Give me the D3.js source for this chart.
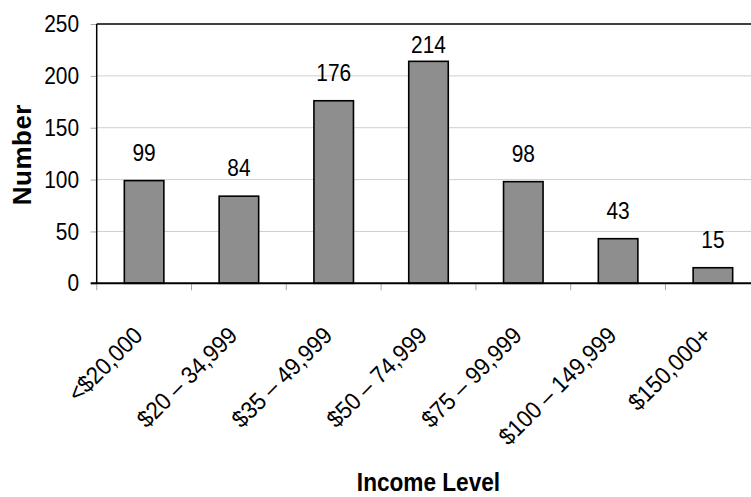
<!DOCTYPE html>
<html>
<head>
<meta charset="utf-8">
<script src="https://cdn.jsdelivr.net/npm/d3@7"></script>
<style>
  html, body { margin: 0; padding: 0; background: #fff; }
  svg { display: block; font-family: "Liberation Sans", Arial, sans-serif; }
</style>
</head>
<body>
<svg id="chart" width="751" height="497"></svg>
<script>
// Household income distribution of respondents
const categories = ["<$20,000", "$20 – 34,999", "$35 – 49,999", "$50 – 74,999",
                    "$75 – 99,999", "$100 – 149,999", "$150,000+"];
const counts = [99, 84, 176, 214, 98, 43, 15];
const yTicks = [0, 50, 100, 150, 200, 250];
const yTitle = "Number";
const xTitle = "Income Level";

const W = 751, H = 497;
const plot = { left: 96.7, right: 760.3, top: 24, bottom: 283.3 };
const squeeze = 0.87;           // narrow glyph width used for horizontal labels
const squeezeDiag = 0.93;       // same narrowing seen along a 45° baseline

const svg = d3.select("#chart");
svg.append("rect").attr("width", W).attr("height", H).attr("fill", "#fff");

const x = d3.scaleBand()
  .domain(categories)
  .range([plot.left, plot.right])
  .paddingInner(0.583)
  .paddingOuter(0.583 / 2);

const y = d3.scaleLinear()
  .domain([0, d3.max(yTicks)])
  .range([plot.bottom, plot.top]);

// light horizontal gridlines
svg.append("g")
  .selectAll("line")
  .data(yTicks.filter(t => t > 0 && t < d3.max(yTicks)))
  .join("line")
  .attr("x1", plot.left).attr("x2", plot.right)
  .attr("y1", d => y(d)).attr("y2", d => y(d))
  .attr("stroke", "#cfcfcf").attr("stroke-width", 1);

// y axis with small grey ticks
const yAxis = svg.append("g")
  .attr("transform", `translate(${plot.left},0)`)
  .call(d3.axisLeft(y).tickValues(yTicks).tickSize(6).tickSizeOuter(0));
yAxis.select(".domain").remove();
yAxis.selectAll(".tick line").attr("stroke", "#a8a8a8");
yAxis.selectAll(".tick text")
  .attr("x", 0)
  .attr("transform", `translate(-17.7,0) scale(${squeeze},1)`)
  .attr("font-size", 24)
  .attr("font-family", "Liberation Sans, Arial, sans-serif")
  .attr("fill", "#000");

// x axis category boundary ticks
const gap = x.step() - x.bandwidth();
const bounds = categories.map(c => x(c) - gap / 2).concat([x(categories[categories.length - 1]) + x.bandwidth() + gap / 2]);
svg.append("g")
  .selectAll("line")
  .data(bounds)
  .join("line")
  .attr("x1", d => d).attr("x2", d => d)
  .attr("y1", plot.bottom).attr("y2", plot.bottom + 7)
  .attr("stroke", "#a8a8a8").attr("stroke-width", 1);

// bars
svg.append("g")
  .selectAll("rect")
  .data(counts)
  .join("rect")
  .attr("x", (d, i) => x(categories[i]))
  .attr("y", d => y(d))
  .attr("width", x.bandwidth())
  .attr("height", d => y(0) - y(d))
  .attr("fill", "#8e8e8e")
  .attr("stroke", "#000")
  .attr("stroke-width", 1.6);

// plot frame: top, left and baseline
const frame = svg.append("g").attr("stroke", "#000").attr("fill", "none");
frame.append("line").attr("x1", plot.left).attr("x2", plot.right)
  .attr("y1", y(d3.max(yTicks))).attr("y2", y(d3.max(yTicks))).attr("stroke-width", 1.5);
frame.append("line").attr("x1", plot.left).attr("x2", plot.left)
  .attr("y1", plot.top).attr("y2", plot.bottom).attr("stroke-width", 1.5);
frame.append("line").attr("x1", plot.left - 6).attr("x2", plot.right)
  .attr("y1", y(0)).attr("y2", y(0)).attr("stroke-width", 2);

// value labels above bars, kept clear of the top border
svg.append("g")
  .selectAll("text")
  .data(counts)
  .join("text")
  .attr("text-anchor", "middle")
  .attr("font-size", 24)
  .attr("fill", "#000")
  .attr("transform", (d, i) => {
    const cx = x(categories[i]) + x.bandwidth() / 2;
    const base = Math.max(y(d) - 20, plot.top + 29);
    return `translate(${cx},${base}) scale(${squeeze},1)`;
  })
  .text(d => d);

// rotated category labels
svg.append("g")
  .selectAll("text")
  .data(categories)
  .join("text")
  .attr("text-anchor", "end")
  .attr("font-size", 24)
  .attr("fill", "#000")
  .attr("transform", d => `translate(${x(d) + x.bandwidth() / 2},337) rotate(-45) scale(${squeezeDiag},1)`)
  .text(d => d);

// axis titles
svg.append("text")
  .attr("text-anchor", "middle")
  .attr("font-size", 26)
  .attr("font-weight", "bold")
  .attr("letter-spacing", 0.5)
  .attr("transform", `translate(31,${(plot.top + plot.bottom) / 2 + 1}) rotate(-90)`)
  .text(yTitle);

svg.append("text")
  .attr("text-anchor", "middle")
  .attr("font-size", 26)
  .attr("font-weight", "bold")
  .attr("transform", `translate(${(plot.left + plot.right) / 2},491) scale(${squeeze},1)`)
  .text(xTitle);
</script>
</body>
</html>
